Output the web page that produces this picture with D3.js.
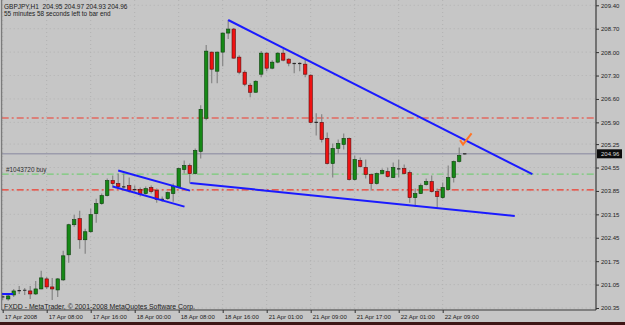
<!DOCTYPE html>
<html>
<head>
<meta charset="utf-8">
<script src="https://cdn.jsdelivr.net/npm/d3@7"></script>
<style>
    body { margin: 0; background: #c6c6c6; }
    svg { display: block; font-family: "Liberation Sans", Arial, sans-serif; }
</style>
</head>
<body>
<svg id="chart" width="625" height="325"></svg>
<script>
// GBPJPY H1 bars, 17 Apr 2008 00:00 onwards
const opens = [200.65, 200.62, 200.74, 200.86, 200.89, 200.86, 200.77, 200.92, 201.22, 200.98,
    200.89, 201.19, 201.94, 202.84, 203.02, 202.39, 202.63, 203.17, 203.47, 203.71,
    204.16, 204.07, 203.98, 204.01, 203.90, 203.89, 203.77, 203.95, 203.86, 203.61,
    203.62, 203.77, 203.95, 204.49, 204.61, 204.37, 205.03, 206.02, 208.00, 207.43,
    208.00, 208.57, 208.69, 207.85, 207.40, 207.01, 206.80, 207.34, 207.97, 207.52,
    207.70, 207.97, 207.79, 207.67, 207.67, 207.64, 207.31, 205.92, 205.90, 205.42,
    204.67, 205.12, 205.24, 205.42, 204.19, 204.76, 204.55, 204.34, 204.07, 204.37,
    204.43, 204.25, 204.52, 204.52, 204.40, 203.65, 203.77, 204.04, 204.13, 203.83,
    203.65, 203.89, 204.25, 204.73, 204.95];
const highs = [200.77, 200.74, 200.92, 201.01, 200.95, 201.01, 201.16, 201.46, 201.28, 201.25,
    201.25, 202.06, 202.87, 203.14, 203.26, 202.72, 203.32, 203.62, 203.77, 204.22,
    204.31, 204.37, 204.37, 204.25, 204.01, 203.95, 203.98, 204.01, 203.92, 203.68,
    203.83, 204.07, 204.55, 204.76, 204.67, 205.12, 206.41, 208.21, 208.02, 208.02,
    208.58, 208.96, 208.72, 207.91, 207.46, 207.07, 207.16, 208.03, 208.00, 207.76,
    208.00, 208.09, 207.82, 207.68, 207.70, 207.79, 207.34, 206.17, 206.14, 205.60,
    205.27, 205.39, 205.57, 205.45, 204.91, 204.85, 204.79, 204.37, 204.40, 204.52,
    204.55, 204.70, 204.79, 204.64, 204.46, 203.92, 204.07, 204.22, 204.31, 203.92,
    204.10, 204.61, 204.76, 205.15, 204.97];
const lows = [200.59, 200.57, 200.68, 200.77, 200.74, 200.62, 200.74, 200.91, 200.92, 200.59,
    200.68, 201.16, 201.70, 202.78, 202.12, 201.97, 202.60, 202.90, 203.44, 203.68,
    203.95, 203.92, 203.92, 203.80, 203.80, 203.68, 203.74, 203.77, 203.50, 203.53,
    203.59, 203.53, 203.94, 204.37, 204.07, 204.34, 204.82, 205.96, 207.07, 207.07,
    207.58, 208.39, 207.81, 207.34, 206.98, 206.65, 206.79, 207.25, 207.43, 207.49,
    207.67, 207.73, 207.58, 207.37, 207.43, 207.25, 205.87, 205.51, 205.30, 204.64,
    204.25, 204.97, 205.09, 204.16, 204.16, 204.55, 204.22, 203.86, 204.04, 204.36,
    204.25, 204.24, 204.25, 204.34, 203.50, 203.38, 203.76, 204.01, 203.80, 203.35,
    203.62, 203.86, 204.10, 204.70, 204.93];
const closes = [200.68, 200.71, 200.86, 200.87, 200.88, 200.77, 200.92, 201.25, 200.98, 200.92,
    201.22, 201.91, 202.84, 202.99, 202.39, 202.63, 203.14, 203.47, 203.71, 204.16,
    204.07, 203.98, 203.97, 203.86, 203.89, 203.74, 203.92, 203.83, 203.59, 203.60,
    203.80, 203.98, 204.52, 204.61, 204.37, 205.06, 206.29, 208.03, 207.49, 208.00,
    208.57, 208.69, 207.82, 207.40, 207.04, 206.80, 207.13, 207.97, 207.52, 207.70,
    207.97, 207.76, 207.67, 207.66, 207.66, 207.34, 205.90, 205.90, 205.39, 204.67,
    205.12, 205.27, 205.42, 204.19, 204.79, 204.58, 204.34, 204.07, 204.37, 204.46,
    204.28, 204.55, 204.51, 204.37, 203.65, 203.77, 204.01, 204.13, 203.83, 203.68,
    203.95, 204.25, 204.73, 204.91, 204.96];

const yTickValues = [209.40, 208.70, 208.00, 207.30, 206.60, 205.90, 205.25,
    204.55, 203.85, 203.15, 202.45, 201.75, 201.05, 200.35];
const yTickLabels = ["209.40", "208.70", "208.00", "207.30", "206.60", "205.90", "205.25",
    "204.55", "203.85", "203.15", "202.45", "201.75", "201.05", "200.35"];
const xTickBars = [0, 8, 16, 24, 32, 40, 48, 56, 64, 72, 80];
const xTickLabels = ["17 Apr 2008", "17 Apr 08:00", "17 Apr 16:00", "18 Apr 00:00",
    "18 Apr 08:00", "18 Apr 16:00", "21 Apr 01:00", "21 Apr 09:00", "21 Apr 17:00",
    "22 Apr 01:00", "22 Apr 09:00"];

// horizontal levels: take profit, order open, stop loss, bid
const takeProfit = 206.03;
const orderPrice = 204.35;
const stopLoss = 203.88;
const bidPrice = 204.96;

// trend lines as [bar, price] pairs
const trendLines = [
    [[41, 208.96], [96.3, 204.35]],
    [[34.1, 204.09], [93.1, 203.10]],
    [[21, 204.46], [34.05, 203.86]],
    [[20, 203.98], [33.05, 203.38]],
    [[-0.2, 200.77], [1.9, 200.77]]
];
const checkMark = [[83.15, 205.37], [83.7, 205.24], [85.25, 205.57]];

const svg = d3.select("#chart");
const plotLeft = 1.7, plotRight = 596, plotTop = 0, plotBottom = 310;

const x = d3.scaleLinear()
    .domain([0, opens.length - 1])
    .range([2.7, 2.7 + 5.5 * (opens.length - 1)]);
const y = d3.scaleLinear()
    .domain([200.35, 209.40])
    .range([308, 5.3]);

svg.append("rect")
    .attr("width", 625).attr("height", 325)
    .attr("fill", "#c6c6c6");

// window frame strip at the bottom
svg.append("rect")
    .attr("x", 0).attr("y", 322).attr("width", 625).attr("height", 3)
    .attr("fill", "#3e1616");

svg.append("clipPath").attr("id", "plot-clip")
    .append("rect")
    .attr("x", plotLeft).attr("y", plotTop)
    .attr("width", plotRight - plotLeft).attr("height", plotBottom - plotTop);

// faint dotted grid
const grid = svg.append("g").attr("clip-path", "url(#plot-clip)");
grid.selectAll(".hgrid")
    .data(yTickValues)
    .enter().append("line")
    .attr("x1", plotLeft).attr("x2", plotRight)
    .attr("y1", (d) => y(d)).attr("y2", (d) => y(d))
    .attr("stroke", "#b2b2b2").attr("stroke-dasharray", "1,3");
grid.selectAll(".vgrid")
    .data(xTickBars)
    .enter().append("line")
    .attr("x1", (d) => x(d)).attr("x2", (d) => x(d))
    .attr("y1", plotTop).attr("y2", plotBottom)
    .attr("stroke", "#b2b2b2").attr("stroke-dasharray", "1,3");

const plot = svg.append("g").attr("clip-path", "url(#plot-clip)");

// level lines
const levelLine = (price, color, dash, width) => {
    plot.append("line")
        .attr("x1", plotLeft).attr("x2", plotRight)
        .attr("y1", y(price)).attr("y2", y(price))
        .attr("stroke", color)
        .attr("stroke-width", width)
        .attr("stroke-dasharray", dash);
};
levelLine(bidPrice, "#9c9cac", null, 1.5);
levelLine(takeProfit, "#f03a2c", "7,3,2,3", 1.2);
levelLine(orderPrice, "#78cc78", "7,3,2,3", 1.2);
levelLine(stopLoss, "#f03a2c", "7,3,2,3", 1.2);

// candles
const bars = opens.map((o, i) => ({
    i: i, o: o, h: highs[i], l: lows[i], c: closes[i]
}));

plot.selectAll(".wick")
    .data(bars)
    .enter().append("line")
    .classed("wick", true)
    .attr("x1", (d) => x(d.i)).attr("x2", (d) => x(d.i))
    .attr("y1", (d) => y(d.h)).attr("y2", (d) => y(d.l))
    .attr("stroke", "#858585")
    .attr("stroke-width", 1.2);

const bodyW = 3.4;
plot.selectAll(".body")
    .data(bars.filter((d) => Math.abs(y(d.o) - y(d.c)) >= 1.2))
    .enter().append("rect")
    .classed("body", true)
    .attr("x", (d) => x(d.i) - bodyW / 2)
    .attr("y", (d) => y(Math.max(d.o, d.c)))
    .attr("width", bodyW)
    .attr("height", (d) => Math.abs(y(d.o) - y(d.c)))
    .attr("fill", (d) => d.c > d.o ? "#168816" : "#ee1212")
    .attr("stroke", (d) => d.c > d.o ? "#0b3d0b" : "#5a0c0c")
    .attr("stroke-width", 0.6);

plot.selectAll(".doji")
    .data(bars.filter((d) => Math.abs(y(d.o) - y(d.c)) < 1.2))
    .enter().append("line")
    .classed("doji", true)
    .attr("x1", (d) => x(d.i) - bodyW / 2).attr("x2", (d) => x(d.i) + bodyW / 2)
    .attr("y1", (d) => y(d.c)).attr("y2", (d) => y(d.c))
    .attr("stroke", "#2a2a2a")
    .attr("stroke-width", 1.2);

// trend lines
plot.selectAll(".trend")
    .data(trendLines)
    .enter().append("line")
    .classed("trend", true)
    .attr("x1", (d) => x(d[0][0])).attr("y1", (d) => y(d[0][1]))
    .attr("x2", (d) => x(d[1][0])).attr("y2", (d) => y(d[1][1]))
    .attr("stroke", "#1a1aff")
    .attr("stroke-width", 2);

plot.append("path")
    .attr("d", d3.line().x((d) => x(d[0])).y((d) => y(d[1]))(checkMark))
    .attr("fill", "none")
    .attr("stroke", "#ff7426")
    .attr("stroke-width", 2);

// texts inside the plot
const textColor = "#1c1c1c";
svg.append("text")
    .attr("x", 4).attr("y", 9)
    .attr("font-size", 6.5).attr("fill", textColor)
    .attr("xml:space", "preserve")
    .text("GBPJPY,H1  204.95 204.97 204.93 204.96");
svg.append("text")
    .attr("x", 4).attr("y", 15.8)
    .attr("font-size", 6.4).attr("fill", textColor)
    .text("55 minutes 58 seconds left to bar end");
svg.append("text")
    .attr("x", 6).attr("y", y(orderPrice) - 2)
    .attr("font-size", 6.4).attr("fill", "#303030")
    .text("#1043720 buy");
svg.append("text")
    .attr("x", 4).attr("y", 308.5)
    .attr("font-size", 6.9).attr("fill", textColor)
    .text("FXDD - MetaTrader, \u00a9 2001-2008 MetaQuotes Software Corp.");

// frame
svg.append("line")
    .attr("x1", plotLeft).attr("x2", plotLeft)
    .attr("y1", plotTop).attr("y2", plotBottom)
    .attr("stroke", "#6a6a6a");

// axes
const yAxis = d3.axisRight(y)
    .tickValues(yTickValues)
    .tickFormat((d, i) => yTickLabels[i])
    .tickSize(3)
    .tickPadding(2);
const yAxisG = svg.append("g")
    .attr("transform", "translate(" + plotRight + ",0)")
    .call(yAxis);
yAxisG.select(".domain").remove();
yAxisG.selectAll("line").attr("stroke", "#303030");
yAxisG.selectAll("text")
    .attr("font-size", 6)
    .attr("font-family", "\"Liberation Sans\", Arial, sans-serif")
    .attr("fill", textColor);

const xAxis = d3.axisBottom(x)
    .tickValues(xTickBars)
    .tickFormat((d, i) => xTickLabels[i])
    .tickSize(3)
    .tickPadding(1.5);
const xAxisG = svg.append("g")
    .attr("transform", "translate(0," + plotBottom + ")")
    .call(xAxis);
xAxisG.select(".domain").remove();
xAxisG.selectAll("line").attr("stroke", "#303030");
xAxisG.selectAll("text")
    .attr("text-anchor", "start")
    .attr("x", 1.5)
    .attr("font-size", 6)
    .attr("font-family", "\"Liberation Sans\", Arial, sans-serif")
    .attr("fill", textColor);

svg.append("line")
    .attr("x1", plotRight).attr("x2", plotRight)
    .attr("y1", plotTop).attr("y2", plotBottom)
    .attr("stroke", "#3a3a3a").attr("stroke-width", 1.2);
svg.append("line")
    .attr("x1", plotLeft).attr("x2", plotRight)
    .attr("y1", plotBottom).attr("y2", plotBottom)
    .attr("stroke", "#3a3a3a").attr("stroke-width", 1.2);

// bid price box on the axis
const bidG = svg.append("g")
    .attr("transform", "translate(" + (plotRight + 1) + "," + y(bidPrice) + ")");
bidG.append("rect")
    .attr("x", 0).attr("y", -4.5)
    .attr("width", 25).attr("height", 9)
    .attr("fill", "#0c0c0c");
bidG.append("text")
    .attr("x", 4).attr("y", 2.2)
    .attr("font-size", 6)
    .attr("fill", "#d8d8d8")
    .text(bidPrice.toFixed(2));
</script>
</body>
</html>
